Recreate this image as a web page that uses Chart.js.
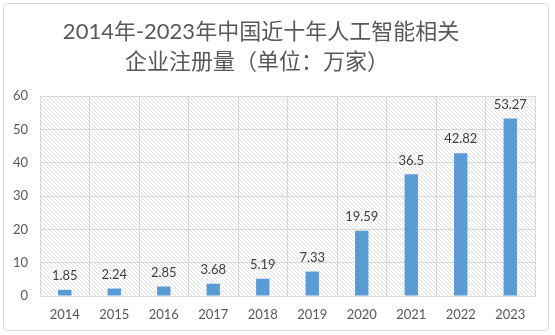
<!DOCTYPE html>
<html>
<head>
<meta charset="utf-8">
<script src="https://cdn.jsdelivr.net/npm/chart.js@4"></script>
<style>
  body { margin: 0; background: #fff; }
  #wrap { width: 555px; height: 335px; }
</style>
</head>
<body>
<div id="wrap"><canvas id="aiChart" width="555" height="335"></canvas></div>
<script>
// 年份与注册量（万家）
const years = ['2014', '2015', '2016', '2017', '2018', '2019', '2020', '2021', '2022', '2023'];
const registrations = [1.85, 2.24, 2.85, 3.68, 5.19, 7.33, 19.59, 36.5, 42.82, 53.27];
const titleLines = ['2014年-2023年中国近十年人工智能相关', '企业注册量（单位：万家）'];

const fontFamily = 'Lato, "Noto Sans CJK SC", sans-serif';

// 斜线底纹
function makeHatch() {
    const c = document.createElement('canvas');
    c.width = 4; c.height = 4;
    const g = c.getContext('2d');
    g.fillStyle = '#ffffff';
    g.fillRect(0, 0, 4, 4);
    g.strokeStyle = '#e0e0e0';
    g.lineWidth = 1;
    g.beginPath();
    g.moveTo(0, 0); g.lineTo(4, 4);
    g.moveTo(-1, 3); g.lineTo(1, 5);
    g.moveTo(3, -1); g.lineTo(5, 1);
    g.stroke();
    return c;
}

// 外框、标题和绘图区底纹
const backgroundPlugin = {
    id: 'background',
    beforeDraw(chart) {
        const ctx = chart.ctx;
        const a = chart.chartArea;
        ctx.save();
        ctx.fillStyle = '#ffffff';
        ctx.fillRect(0, 0, chart.width, chart.height);
        ctx.strokeStyle = '#d9d9d9';
        ctx.lineWidth = 1;
        ctx.beginPath();
        ctx.roundRect(3.5, 3.5, 545, 327, 4);
        ctx.stroke();

        ctx.fillStyle = '#595959';
        ctx.font = '22px ' + fontFamily;
        ctx.textAlign = 'center';
        ctx.textBaseline = 'middle';
        ctx.fillText(titleLines[0], 261, 32);
        ctx.fillText(titleLines[1], 257, 62);

        ctx.fillStyle = ctx.createPattern(makeHatch(), 'repeat');
        ctx.fillRect(a.left, a.top, a.right - a.left, a.bottom - a.top);
        ctx.restore();
    }
};

// 柱顶数值标签
const valueLabels = {
    id: 'valueLabels',
    afterDatasetsDraw(chart) {
        const ctx = chart.ctx;
        const meta = chart.getDatasetMeta(0);
        ctx.save();
        ctx.font = '13px ' + fontFamily;
        ctx.fillStyle = '#404040';
        ctx.textAlign = 'center';
        ctx.textBaseline = 'middle';
        meta.data.forEach((bar, i) => {
            ctx.fillText(String(chart.data.datasets[0].data[i]), bar.x, bar.y - 14);
        });
        ctx.restore();
    }
};

new Chart(document.getElementById('aiChart'), {
    type: 'bar',
    data: {
        labels: years,
        datasets: [{
            data: registrations,
            backgroundColor: '#5b9bd5',
            barPercentage: 0.27,
            categoryPercentage: 1
        }]
    },
    options: {
        responsive: false,
        animation: false,
        layout: { padding: { left: 0, right: 20, top: 96, bottom: 0 } },
        plugins: {
            legend: { display: false },
            tooltip: { enabled: false },
            title: { display: false }
        },
        scales: {
            x: {
                afterFit(scale) { scale.height = 39; },
                grid: { color: '#d9d9d9', offset: true, drawTicks: false },
                border: { color: '#d9d9d9' },
                ticks: { color: '#595959', font: { family: fontFamily, size: 13 }, padding: 11 }
            },
            y: {
                min: 0,
                max: 60,
                afterFit(scale) { scale.width = 40; },
                grid: { color: '#d9d9d9', drawTicks: false },
                border: { display: false },
                ticks: { stepSize: 10, color: '#595959', font: { family: fontFamily, size: 13 }, padding: 12 }
            }
        }
    },
    plugins: [backgroundPlugin, valueLabels]
});
</script>
</body>
</html>
